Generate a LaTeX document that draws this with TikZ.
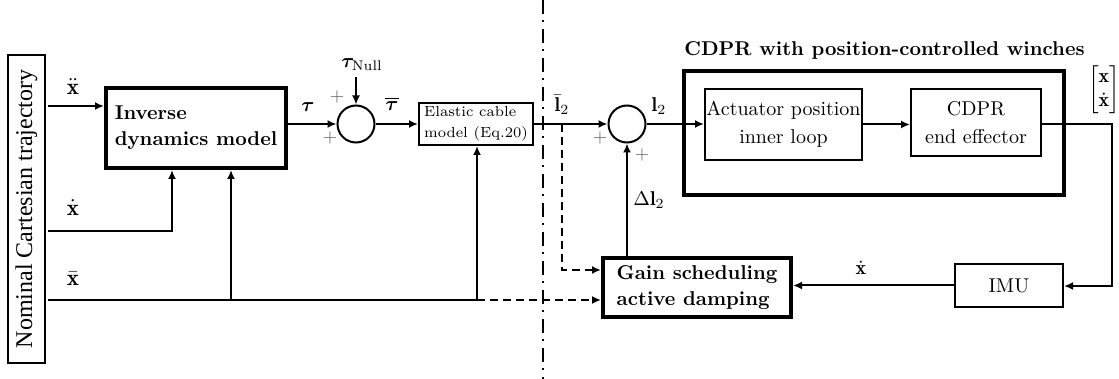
\documentclass[tikz,border=0pt]{standalone}
\usepackage{fontspec}
\usepackage{bm}
\newfontfamily\tms{Liberation Serif}
\usetikzlibrary{arrows.meta,calc}
\begin{document}
\begin{tikzpicture}[x=0.5pt,y=-0.5pt,
  line width=1pt,
  arr/.style={-{Latex[length=4.5pt,width=4pt]}},
  blk/.style={draw,line width=1pt,inner sep=0pt,align=center},
  tblk/.style={draw,line width=2pt,inner sep=0pt},
  sumc/.style={draw,circle,line width=1pt,minimum size=18.5pt,inner sep=0pt},
  dsh/.style={dash pattern=on 4pt off 2.5pt},
  lbl/.style={inner sep=0pt},
  inl/.style={inner sep=0pt,font=\fontsize{11.5}{13}\selectfont},
  pl/.style={inner sep=0pt,font=\small,text=black!60}
]
\useasboundingbox (0,0) rectangle (1119,379);

% blocks
\node[draw,line width=1pt,rotate=90,minimum width=154pt,minimum height=18.5pt,inner sep=0pt,font=\tms\fontsize{12}{14}\selectfont] (nom) at (26.5,209) {Nominal Cartesian trajectory};
\node[tblk,minimum width=90pt,minimum height=40pt,align=left,font=\bfseries] (inv) at (196,128) {Inverse\\[1pt]dynamics model};
\node[sumc] (s1) at (356,124) {};
\node[blk,minimum width=57pt,minimum height=21pt,align=left,font=\fontsize{7.3}{10.5}\selectfont] (ela) at (476,124) {Elastic cable\\model (Eq.20)};
\node[sumc] (s2) at (627,124) {};
\node[tblk,minimum width=190pt,minimum height=62pt] (cdpr) at (873.5,133) {};
\node[lbl,font=\bfseries] (title) at (884.5,50) {CDPR with position-controlled winches};
\node[blk,minimum width=78.5pt,minimum height=35.5pt] (act) at (783.5,124.5) {Actuator position\\[2pt]inner loop};
\node[blk,minimum width=65pt,minimum height=33.5pt] (ee) at (976,122.5) {CDPR\\[2pt]end effector};
\node[blk,minimum width=54pt,minimum height=21.5pt] (imu) at (1009,285.5) {IMU};
\node[tblk,minimum width=94pt,minimum height=29.5pt,align=left,font=\bfseries] (gain) at (697,287.5) {Gain scheduling\\[1pt]active damping};

% coordinates
\coordinate (xdd) at (48,106);
\coordinate (xd) at (48,231);
\coordinate (xd1) at (172,231);
\coordinate (xb) at (48,300);
\coordinate (xb1) at (231,300);
\coordinate (xb2) at (477,300);
\coordinate (tna) at (356,77);
\coordinate (lb) at (562,124);
\coordinate (ld) at (562,270);
\coordinate (fb) at (1112,124);
\coordinate (fb2) at (1112,286);
\coordinate (dd1) at (543,0);
\coordinate (dd2) at (543,379);

% connectors
\draw[arr] (xdd) -- (xdd-|inv.west);
\draw[arr] (xd) -- (xd1) -- (xd1|-inv.south);
\draw (xb) -- (xb2);
\draw[arr] (xb1) -- (xb1|-inv.south);
\draw[arr] (xb2) -- (xb2|-ela.south);
\draw[arr,dsh] (xb2) -- (xb2-|gain.west);
\draw[arr] (inv.east|-s1) -- (s1.west);
\draw[arr] (tna) -- (s1.north);
\draw[arr] (s1.east) -- (ela.west);
\draw[arr] (ela.east) -- (s2.west);
\draw[arr,dsh] (lb) -- (ld) -- (ld-|gain.west);
\draw[arr] (s2|-gain.north) -- (s2.south);
\draw[arr] (s2.east) -- (s2.east-|act.west);
\draw[arr] (act.east) -- (act.east-|ee.west);
\draw[arr] (fb-|ee.east) -- (fb) -- (fb2) -- (fb2-|imu.east);
\draw[arr] (imu.west) -- (imu.west-|gain.east);
\draw[line width=1pt,dash pattern=on 7pt off 3pt on 1pt off 3.5pt] (dd1) -- (dd2);

% labels
\node[inl] (lxdd) at (73,87) {$\ddot{\mathbf{x}}$};
\node[inl] (lxd) at (73,208) {$\dot{\mathbf{x}}$};
\node[inl] (lxb) at (73,279) {$\bar{\mathbf{x}}$};
\node[lbl] (ltau) at (308,107) {$\bm{\tau}$};
\node[lbl] (ltn) at (362,65) {$\bm{\tau}_{\mathrm{Null}}$};
\node[lbl] (ltb) at (392,104) {$\overline{\bm{\tau}}$};
\node[lbl] (llb) at (562,105) {$\bar{\mathbf{l}}_2$};
\node[lbl] (ll) at (659,106) {$\mathbf{l}_2$};
\node[lbl] (ldl) at (649,200) {$\Delta\mathbf{l}_2$};
\node[lbl] (lxd2) at (861,268) {$\dot{\mathbf{x}}$};
\node[lbl] (lxv) at (1104,90) {$\left[\begin{array}{@{}c@{}}\mathbf{x}\\ \dot{\mathbf{x}}\end{array}\right]$};
\node[pl] (p1) at (337,97) {$+$};
\node[pl] (p2) at (330,138) {$+$};
\node[pl] (p3) at (600,138) {$+$};
\node[pl] (p4) at (642,155) {$+$};
\end{tikzpicture}
\end{document}
